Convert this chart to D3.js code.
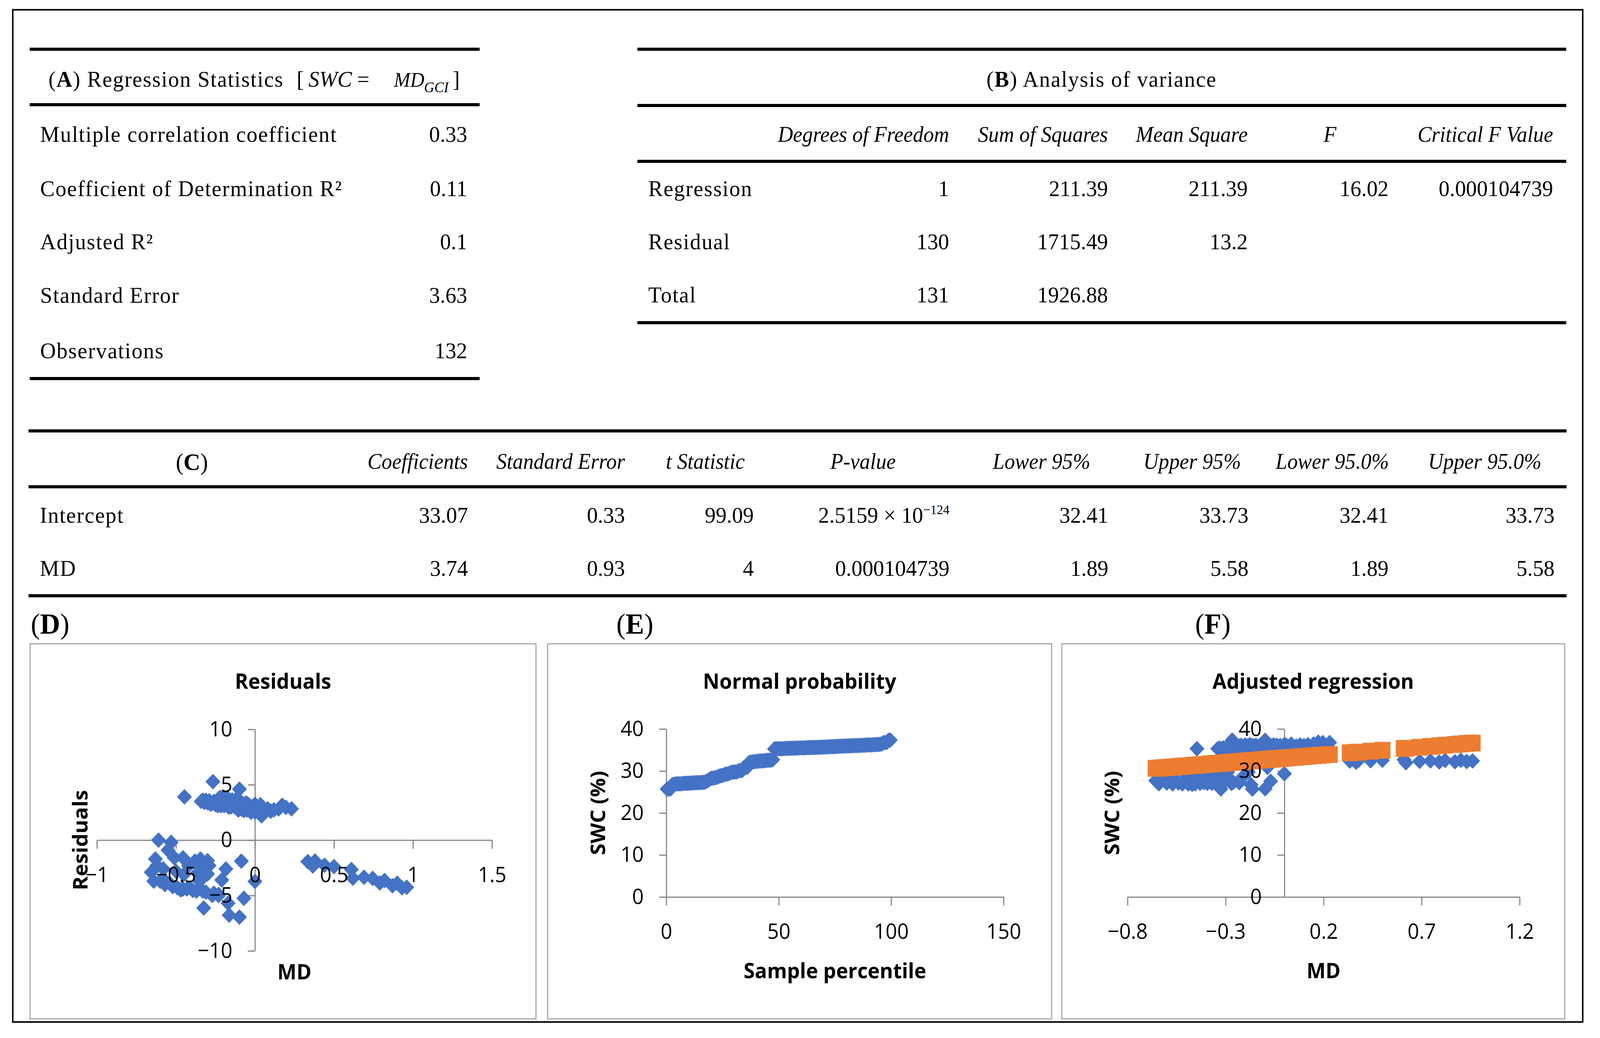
<!DOCTYPE html>
<html>
<head>
<meta charset="utf-8">
<title>Regression of SWC on MD</title>
<script src="https://cdn.jsdelivr.net/npm/d3@7"></script>
<style>
  html, body { margin: 0; padding: 0; background: #ffffff; overflow: hidden; width: 100%; height: 100%; }
  svg { display: block; width: 100vw; height: 100vh; }
</style>
</head>
<body>
<script>
// ======================= DATA =======================
// (A) Regression statistics
const statLabels = ["Multiple correlation coefficient", "Coefficient of Determination R²", "Adjusted R²", "Standard Error", "Observations"];
const statValues = ["0.33", "0.11", "0.1", "3.63", "132"];

// (B) Analysis of variance
const anovaHeaders = ["Degrees of Freedom", "Sum of Squares", "Mean Square", "F", "Critical F Value"];
const anovaRows = ["Regression", "Residual", "Total"];
const anovaDf = ["1", "130", "131"];
const anovaSS = ["211.39", "1715.49", "1926.88"];
const anovaMS = ["211.39", "13.2", ""];
const anovaF = ["16.02", "", ""];
const anovaCritF = ["0.000104739", "", ""];

// (C) Coefficients
const coefHeaders = ["Coefficients", "Standard Error", "t Statistic", "P-value", "Lower 95%", "Upper 95%", "Lower 95.0%", "Upper 95.0%"];
const coefRows = ["Intercept", "MD"];
const coefIntercept = ["33.07", "0.33", "99.09", "2.5159 × 10", "32.41", "33.73", "32.41", "33.73"];
const coefInterceptPExp = "−124";
const coefMD = ["3.74", "0.93", "4", "0.000104739", "1.89", "5.58", "1.89", "5.58"];

// Observations: MD (x of D and F)
const md = [
  -0.34,-0.33,-0.32,-0.31,-0.30,-0.29,-0.28,-0.27,-0.26,-0.25,
  -0.24,-0.235,-0.23,-0.225,-0.22,-0.215,-0.21,-0.20,-0.195,-0.19,
  -0.185,-0.18,-0.175,-0.17,-0.165,-0.16,-0.155,-0.15,-0.145,-0.14,
  -0.13,-0.12,-0.115,-0.11,-0.105,-0.10,-0.09,-0.085,-0.08,-0.075,
  -0.07,-0.065,-0.06,-0.055,-0.05,-0.045,-0.04,-0.035,-0.03,-0.025,
  -0.02,-0.01,-0.446,-0.266,-0.098,0.231,0.196,0.173,0.15,0.12,
  0.10,0.08,0.06,0.042,0.035,0.02,0.01,0.0,0.0,
  0.334,0.38,0.366,0.44,0.50,0.61,0.62,0.69,0.745,0.79,0.82,0.87,0.90,0.93,0.96,
  -0.61,-0.53,-0.55,-0.63,-0.656,-0.455,-0.345,-0.30,-0.38,-0.086,
  -0.184,-0.30,-0.336,0.0,-0.567,-0.455,-0.393,-0.23,-0.07,-0.324,
  -0.163,-0.098,-0.17,-0.27,-0.23,-0.62,-0.60,-0.58,-0.57,-0.54,
  -0.52,-0.50,-0.49,-0.47,-0.45,-0.43,-0.42,-0.41,-0.37,-0.36,
  -0.35,-0.33,-0.31,-0.29,-0.26,-0.21,-0.64,-0.51
];

// Residuals (panel D, y)
const residual = [
  3.50,3.61,3.41,3.59,3.37,3.56,3.24,3.34,3.50,3.21,
  3.48,3.11,3.74,3.27,3.85,3.11,3.47,3.88,3.11,3.49,
  3.62,3.18,3.83,3.27,2.97,3.58,3.31,3.01,3.62,3.35,
  3.04,3.68,3.04,3.36,2.72,3.18,3.45,2.80,3.01,3.29,
  2.67,3.12,2.87,3.36,2.72,2.93,3.20,2.72,2.96,2.52,
  3.00,2.73,3.91,5.28,4.60,2.83,2.95,3.15,2.82,2.73,
  2.61,2.83,2.61,2.19,3.20,2.66,2.99,2.53,3.23,
  -1.94,-1.89,-2.34,-2.27,-2.39,-2.65,-3.44,-3.35,-3.46,-3.87,-3.64,-4.12,-3.89,-4.30,-4.26,
  0.00,-0.20,-0.90,-1.70,-2.90,-1.60,-1.70,-1.85,-1.90,-1.90,
  -2.60,-3.05,-2.55,-3.72,-3.70,-4.42,-4.54,-5.00,-5.25,-6.13,
  -6.77,-6.95,-5.70,-5.00,-4.90,-2.30,-3.70,-2.60,-4.00,-3.90,
  -4.20,-2.80,-4.30,-4.50,-3.10,-4.40,-2.30,-4.30,-4.60,-2.90,
  -3.70,-4.60,-4.70,-2.30,-4.80,-3.60,-3.70,-1.60
];

// Observed SWC (panel F, blue)
const swcObserved = [
  35.30,35.45,35.28,35.50,35.32,35.55,35.26,35.40,35.60,35.35,
  35.65,35.30,35.95,35.50,36.10,35.38,35.75,36.20,35.45,35.85,
  36.00,35.58,36.25,35.70,35.42,36.05,35.80,35.52,36.15,35.90,
  35.62,36.30,35.68,36.02,35.40,35.88,36.18,35.55,35.78,36.08,
  35.48,35.95,35.72,36.22,35.60,35.83,36.12,35.66,35.92,35.50,
  36.00,35.76,35.31,37.36,37.30,36.76,36.75,36.87,36.45,36.25,
  36.05,36.20,35.90,35.42,36.40,35.80,36.10,35.60,36.30,
  32.38,32.60,32.10,32.45,32.55,32.70,31.95,32.30,32.40,32.15,32.50,32.20,32.55,32.25,32.40,
  30.79,30.89,30.11,29.01,27.72,29.77,30.08,30.10,29.75,30.85,
  29.78,28.90,29.26,29.35,27.25,26.95,27.06,27.21,27.56,25.73,
  25.69,25.75,26.73,27.06,27.31,28.45,27.13,28.30,26.94,27.15,
  26.93,28.40,26.94,26.81,28.29,27.06,29.20,27.24,27.09,28.82,
  28.06,27.24,27.21,29.69,27.30,28.68,26.98,29.56
];

// Predicted SWC (panel F, orange)
const swcPredicted = [
  31.80,31.84,31.87,31.91,31.95,31.99,32.02,32.06,32.10,32.14,
  32.17,32.19,32.21,32.23,32.25,32.27,32.28,32.32,32.34,32.36,
  32.38,32.40,32.42,32.43,32.45,32.47,32.49,32.51,32.53,32.55,
  32.58,32.62,32.64,32.66,32.68,32.70,32.73,32.75,32.77,32.79,
  32.81,32.83,32.85,32.86,32.88,32.90,32.92,32.94,32.96,32.98,
  33.00,33.03,31.40,32.08,32.70,33.93,33.80,33.72,33.63,33.52,
  33.44,33.37,33.29,33.23,33.20,33.14,33.11,33.07,33.07,
  34.32,34.49,34.44,34.72,34.94,35.35,35.39,35.65,35.86,36.02,36.14,36.32,36.44,36.55,36.66,
  30.79,31.09,31.01,30.71,30.62,31.37,31.78,31.95,31.65,32.75,
  32.38,31.95,31.81,33.07,30.95,31.37,31.60,32.21,32.81,31.86,
  32.46,32.70,32.43,32.06,32.21,30.75,30.83,30.90,30.94,31.05,
  31.13,31.20,31.24,31.31,31.39,31.46,31.50,31.54,31.69,31.72,
  31.76,31.84,31.91,31.99,32.10,32.28,30.68,31.16
];

// Normal probability plot (panel E)
const samplePercentile = [
  0.38,1.14,1.89,2.65,3.41,4.17,4.92,5.68,6.44,7.20,
  7.95,8.71,9.47,10.23,10.98,11.74,12.50,13.26,14.02,14.77,
  15.53,16.29,17.05,17.80,18.56,19.32,20.08,20.83,21.59,22.35,
  23.11,23.86,24.62,25.38,26.14,26.89,27.65,28.41,29.17,29.92,
  30.68,31.44,32.20,32.95,33.71,34.47,35.23,35.98,36.74,37.50,
  38.26,39.02,39.77,40.53,41.29,42.05,42.80,43.56,44.32,45.08,
  45.83,46.59,47.35,48.11,48.86,49.62,50.38,51.14,51.89,52.65,
  53.41,54.17,54.92,55.68,56.44,57.20,57.95,58.71,59.47,60.23,
  60.98,61.74,62.50,63.26,64.02,64.77,65.53,66.29,67.05,67.80,
  68.56,69.32,70.08,70.83,71.59,72.35,73.11,73.86,74.62,75.38,
  76.14,76.89,77.65,78.41,79.17,79.92,80.68,81.44,82.20,82.95,
  83.71,84.47,85.23,85.98,86.74,87.50,88.26,89.02,89.77,90.53,
  91.29,92.05,92.80,93.56,94.32,95.08,95.83,96.59,97.35,98.11,
  98.86,99.62
];
const swcSorted = [
  25.69,25.73,25.75,26.73,26.81,26.93,26.94,26.94,26.95,26.98,
  27.06,27.06,27.06,27.09,27.13,27.15,27.21,27.21,27.24,27.24,
  27.25,27.30,27.31,27.56,27.72,28.06,28.29,28.30,28.40,28.45,
  28.68,28.82,28.90,29.01,29.20,29.26,29.35,29.56,29.69,29.75,
  29.77,29.78,30.08,30.10,30.11,30.79,30.85,30.89,31.95,32.10,
  32.15,32.20,32.25,32.30,32.38,32.40,32.40,32.45,32.50,32.55,
  32.55,32.60,32.70,35.26,35.28,35.30,35.30,35.31,35.32,35.35,
  35.38,35.40,35.40,35.42,35.42,35.45,35.45,35.48,35.50,35.50,
  35.50,35.52,35.55,35.55,35.58,35.60,35.60,35.60,35.62,35.65,
  35.66,35.68,35.70,35.72,35.75,35.76,35.78,35.80,35.80,35.83,
  35.85,35.88,35.90,35.90,35.92,35.95,35.95,36.00,36.00,36.02,
  36.05,36.05,36.08,36.10,36.10,36.12,36.15,36.18,36.20,36.20,
  36.22,36.25,36.25,36.30,36.30,36.40,36.45,36.75,36.76,36.87,
  37.30,37.36
];

// Axis ticks and labels
const dXTicks = [-1, -0.5, 0, 0.5, 1, 1.5];
const dXLabels = ["−1", "−0.5", "0", "0.5", "1", "1.5"];
const dYTicks = [-10, -5, 0, 5, 10];
const dYLabels = ["−10", "−5", "0", "5", "10"];
const eXTicks = [0, 50, 100, 150];
const eXLabels = ["0", "50", "100", "150"];
const eYTicks = [0, 10, 20, 30, 40];
const eYLabels = ["0", "10", "20", "30", "40"];
const fXTicks = [-0.8, -0.3, 0.2, 0.7, 1.2];
const fXLabels = ["−0.8", "−0.3", "0.2", "0.7", "1.2"];
const fYTicks = [0, 10, 20, 30, 40];
const fYLabels = ["0", "10", "20", "30", "40"];

// ======================= DRAWING =======================
const W = 4260, H = 2657;
const SERIF = "'Liberation Serif', 'Times New Roman', serif";
const SANS = "'Open Sans', 'Noto Sans', sans-serif";
const BLUE = "#4472C4", ORANGE = "#ED7D31", AXIS = "#868686";

// The drawing is laid out in a 4260 x 2657 coordinate system and stretched to fill the window.
const svg = d3.select("body").append("svg")
  .attr("viewBox", `0 0 ${W} ${H}`)
  .attr("preserveAspectRatio", "none");
svg.append("rect").attr("width", W).attr("height", H).attr("fill", "#ffffff");

// outer frame
svg.append("rect").attr("x", 34).attr("y", 25).attr("width", 4214 - 34).attr("height", 2616 - 25)
  .attr("fill", "none").attr("stroke", "#000").attr("stroke-width", 4);

function rule(x1, x2, y) {
  svg.append("rect").attr("x", x1).attr("y", y - 4).attr("width", x2 - x1).attr("height", 8).attr("fill", "#000");
}
function txt(x, y, s, o = {}) {
  return svg.append("text").attr("x", x).attr("y", y).text(s)
    .attr("font-family", o.family || SERIF)
    .attr("font-size", o.size || 58)
    .attr("font-style", o.italic ? "italic" : null)
    .attr("font-weight", o.bold ? "bold" : null)
    .attr("text-anchor", o.anchor || "start")
    .attr("letter-spacing", o.ls != null ? o.ls : null)
    .attr("fill", "#000");
}
// "(X)" label with a bold letter and regular parentheses
function letterLabel(x, y, letter, o = {}) {
  const t = txt(x, y, "", o);
  t.append("tspan").text("(");
  t.append("tspan").attr("font-weight", "bold").text(letter);
  t.append("tspan").text(")" + (o.rest || ""));
  return t;
}
const WORD_LS = 2;

// ---------- Table A ----------
rule(79, 1277, 126); rule(79, 1277, 268); rule(79, 1277, 969);
letterLabel(129, 222, "A", { ls: WORD_LS, rest: " Regression Statistics" });
txt(790, 222, "[");
txt(821, 222, "SWC", { italic: true, size: 58 });
txt(951, 222, "=", { size: 58 });
txt(1049, 222, "MD", { italic: true, size: 52 });
txt(1129, 236, "GCI", { italic: true, size: 38 });
txt(1205, 222, "]");
const rowYA = [363, 502, 638, 775, 917];
statLabels.forEach((s, i) => {
  txt(107, rowYA[i], s, { ls: WORD_LS });
  txt(1244, rowYA[i], statValues[i], { anchor: "end" });
});

// ---------- Table B ----------
rule(1697, 4170, 126); rule(1697, 4170, 270); rule(1697, 4170, 413); rule(1697, 4170, 826);
letterLabel(2933, 222, "B", { anchor: "middle", ls: WORD_LS, rest: " Analysis of variance" });
const colB = [2527, 2950, 3322, 3697, 4135];
anovaHeaders.forEach((h, i) => {
  if (h === "F") txt(3541, 363, h, { italic: true, size: 56, anchor: "middle" });
  else txt(colB[i], 363, h, { italic: true, size: 56, anchor: "end" });
});
const rowYB = [502, 638, 774];
anovaRows.forEach((r, i) => {
  txt(1726, rowYB[i], r, { ls: WORD_LS });
  [anovaDf[i], anovaSS[i], anovaMS[i], anovaF[i], anovaCritF[i]].forEach((v, j) => {
    if (v) txt(colB[j], rowYB[i], v, { anchor: "end" });
  });
});

// ---------- Table C ----------
rule(76, 4171, 1103); rule(76, 4171, 1246); rule(76, 4171, 1525);
letterLabel(511, 1203, "C", { anchor: "middle", size: 62 });
const colCHead = [1246, 1664, 1983, 2298, 2903, 3304, 3698, 4104];
coefHeaders.forEach((h, i) => {
  txt(colCHead[i], 1200, h, { italic: true, size: 56, anchor: h === "P-value" ? "middle" : "end" });
});
const colC = [1246, 1664, 2007, 2528, 2951, 3324, 3697, 4139];
const rowYC = [1338, 1474];
[coefIntercept, coefMD].forEach((vals, r) => {
  txt(106, rowYC[r], coefRows[r], { ls: WORD_LS });
  vals.forEach((v, j) => {
    const t = txt(colC[j], rowYC[r], v, { anchor: "end" });
    if (r === 0 && j === 3) {
      t.append("tspan").attr("font-size", 34).attr("dy", -22).text(coefInterceptPExp);
    }
  });
});

// ---------- Charts D, E, F ----------
const panelTop = 1648, panelBottom = 2608;
const charts = [
  {
    label: "D", labelX: 82, panel: [80, 1427], title: "Residuals",
    x: d3.scaleLinear().domain([dXTicks[0], dXTicks[dXTicks.length - 1]]).range([258, 1310]),
    y: d3.scaleLinear().domain([dYTicks[0], dYTicks[dYTicks.length - 1]]).range([2434, 1867]),
    xTicks: dXTicks, xLabels: dXLabels, yTicks: dYTicks, yLabels: dYLabels,
    xTitle: "MD", xTitleY: 2507, yTitle: "Residuals",
    series: [{ xs: md, ys: residual, shape: "diamond", color: BLUE }]
  },
  {
    label: "E", labelX: 1641, panel: [1458, 2800], title: "Normal probability",
    x: d3.scaleLinear().domain([eXTicks[0], eXTicks[eXTicks.length - 1]]).range([1774, 2672]),
    y: d3.scaleLinear().domain([eYTicks[0], eYTicks[eYTicks.length - 1]]).range([2296, 1866]),
    xTicks: eXTicks, xLabels: eXLabels, yTicks: eYTicks, yLabels: eYLabels,
    xTitle: "Sample percentile", xTitleY: 2504, yTitle: "SWC (%)",
    series: [{ xs: samplePercentile, ys: swcSorted, shape: "diamond", color: BLUE }]
  },
  {
    label: "F", labelX: 3182, panel: [2827, 4166], title: "Adjusted regression",
    x: d3.scaleLinear().domain([fXTicks[0], fXTicks[fXTicks.length - 1]]).range([3002, 4046]),
    y: d3.scaleLinear().domain([fYTicks[0], fYTicks[fYTicks.length - 1]]).range([2296, 1866]),
    xTicks: fXTicks, xLabels: fXLabels, yTicks: fYTicks, yLabels: fYLabels,
    xTitle: "MD", xTitleY: 2504, yTitle: "SWC (%)",
    series: [
      { xs: md, ys: swcObserved, shape: "diamond", color: BLUE },
      { xs: md, ys: swcPredicted, shape: "square", color: ORANGE }
    ]
  }
];

const diamondPath = d3.symbol(d3.symbolSquare, 800)();
const squarePath = d3.symbol(d3.symbolSquare, 1849)();

charts.forEach(c => {
  // panel label
  letterLabel(c.labelX, 1622, c.label, { size: 74 });
  // chart frame
  svg.append("rect").attr("x", c.panel[0]).attr("y", panelTop)
    .attr("width", c.panel[1] - c.panel[0]).attr("height", panelBottom - panelTop)
    .attr("fill", "#fff").attr("stroke", "#a6a6a6").attr("stroke-width", 3);

  const g = svg.append("g");
  const xAxis = d3.axisBottom(c.x).tickValues(c.xTicks).tickSize(22).tickSizeOuter(0)
    .tickPadding(47).tickFormat((d, i) => c.xLabels[i]);
  const yAxis = d3.axisLeft(c.y).tickValues(c.yTicks).tickSize(19).tickSizeOuter(0)
    .tickPadding(41).tickFormat((d, i) => c.yLabels[i]);
  const x0 = c.x(0), y0 = c.y(0);

  // axis lines (under the markers)
  const lines = g.append("g");
  const xl = lines.append("g").attr("transform", `translate(0,${y0})`).call(xAxis);
  const yl = lines.append("g").attr("transform", `translate(${x0},0)`).call(yAxis);
  [xl, yl].forEach(a => {
    a.selectAll("text").remove();
    a.selectAll("path, line").attr("stroke", AXIS).attr("stroke-width", 3);
  });

  // markers
  c.series.forEach(s => {
    const pts = d3.zip(s.xs, s.ys);
    g.append("g").selectAll("path").data(pts).join("path")
      .attr("d", s.shape === "diamond" ? diamondPath : squarePath)
      .attr("transform", d => `translate(${c.x(d[0])},${c.y(d[1])})` + (s.shape === "diamond" ? " rotate(45)" : ""))
      .attr("fill", s.color);
  });

  // tick labels (above markers)
  const labs = g.append("g");
  const xt = labs.append("g").attr("transform", `translate(0,${y0})`).call(xAxis);
  const yt = labs.append("g").attr("transform", `translate(${x0},0)`).call(yAxis);
  [xt, yt].forEach(a => {
    a.select(".domain").remove();
    a.selectAll("line").remove();
    a.attr("font-family", SANS).attr("font-size", 54);
    a.selectAll("text").attr("fill", "#000");
  });

  // titles
  const cx = (c.panel[0] + c.panel[1]) / 2;
  txt(cx, 1763, c.title, { family: SANS, size: 54, bold: true, anchor: "middle" });
  const pcx = (c.x.range()[0] + c.x.range()[1]) / 2;
  txt(pcx, c.xTitleY, c.xTitle, { family: SANS, size: 54, bold: true, anchor: "middle" });
  const pcy = (c.y.range()[0] + c.y.range()[1]) / 2;
  svg.append("text").attr("transform", `translate(${c.panel[0] + 153},${pcy}) rotate(-90)`)
    .attr("text-anchor", "middle").attr("font-family", SANS).attr("font-size", 54)
    .attr("font-weight", "bold").attr("fill", "#000").text(c.yTitle);
});
</script>
</body>
</html>
